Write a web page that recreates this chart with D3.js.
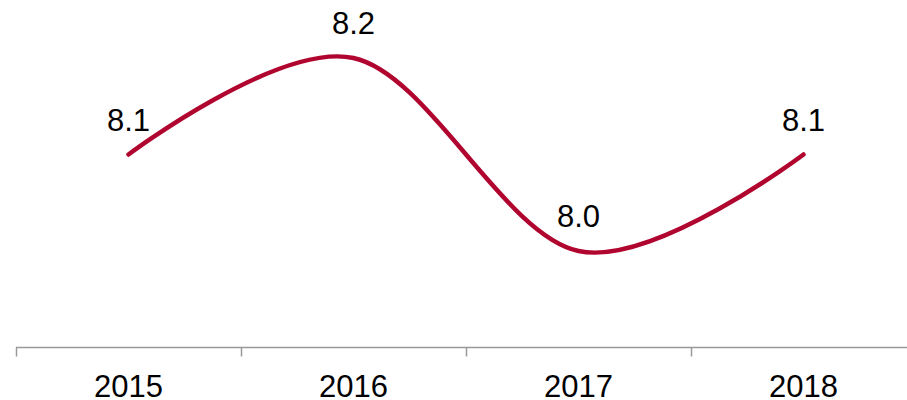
<!DOCTYPE html>
<html>
<head>
<meta charset="utf-8">
<script src="https://cdn.jsdelivr.net/npm/d3@7"></script>
<style>
	body { margin: 0; background: #fff; }
	svg { display: block; font-family: "Liberation Sans", Arial, sans-serif; }
</style>
</head>
<body>
<div class="chart"></div>
<script>
// data
var years = ["2015", "2016", "2017", "2018"];
var values = [8.1, 8.2, 8.0, 8.1];
var labels = ["8.1", "8.2", "8.0", "8.1"];

var width = 907,
	height = 400;

var svg = d3.select(".chart")
	.append("svg")
	.attr("width", width)
	.attr("height", height);

var x = d3.scaleBand()
	.domain(years)
	.range([16, 916]);

var y = d3.scaleLinear()
	.domain([8.0, 8.2])
	.range([251, 58]);

var axisY = 347.5;

// axis
var axis = svg.append("g")
	.attr("transform", "translate(0," + axisY + ")")
	.call(d3.axisBottom(x).tickSize(0).tickPadding(27.5));

axis.select(".domain").remove();
axis.append("line")
	.attr("x1", 16)
	.attr("x2", width)
	.attr("stroke", "#999")
	.attr("stroke-width", 1.5);

axis.selectAll(".sep")
	.data(years)
	.enter().append("line")
		.attr("class", "sep")
		.attr("x1", function(d) { return x(d) + 0.5; })
		.attr("x2", function(d) { return x(d) + 0.5; })
		.attr("y1", 0)
		.attr("y2", 9)
		.attr("stroke", "#999")
		.attr("stroke-width", 1.5);

axis.selectAll(".tick text")
	.attr("font-size", 31)
	.attr("fill", "#000")
	.attr("font-family", "Liberation Sans, Arial, sans-serif");

// line
var line = d3.line()
	.x(function(d, i) { return x(years[i]) + x.bandwidth() / 2; })
	.y(function(d) { return y(d); })
	.curve(d3.curveCatmullRom.alpha(0));

svg.append("path")
	.datum(values)
	.attr("d", line)
	.attr("fill", "none")
	.attr("stroke", "#B0052F")
	.attr("stroke-width", 4.5)
	.attr("stroke-linecap", "round");

// value labels
svg.selectAll(".val")
	.data(values)
	.enter().append("text")
		.attr("class", "val")
		.attr("x", function(d, i) { return x(years[i]) + x.bandwidth() / 2; })
		.attr("y", function(d) { return y(d) - 24; })
		.attr("text-anchor", "middle")
		.attr("font-size", 31)
		.attr("fill", "#000")
		.text(function(d, i) { return labels[i]; });
</script>
</body>
</html>
